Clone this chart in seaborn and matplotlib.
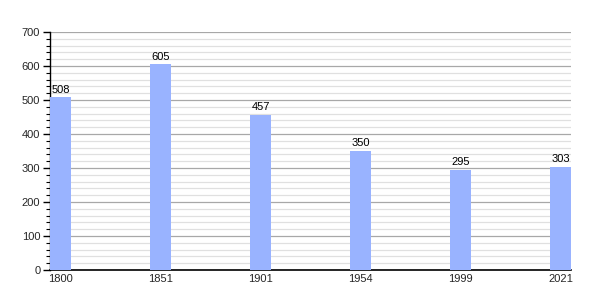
import matplotlib
matplotlib.use("Agg")
import matplotlib.pyplot as plt
import seaborn as sns
import pandas as pd
import numpy as np
from matplotlib.ticker import MultipleLocator

years = ["1800", "1851", "1901", "1954", "1999", "2021"]
population = [508, 605, 457, 350, 295, 303]

df = pd.DataFrame({"year": years, "pop": population})

sns.set_style("white")
plt.rcParams['font.family'] = ['Liberation Sans', 'DejaVu Sans']

fig = plt.figure(figsize=(6, 3), dpi=100)
ax = fig.add_axes([50/600, 30/300, 521/600, 238/300])

sns.barplot(data=df, x="year", y="pop", color="#99b3ff", saturation=1,
            width=0.21, ax=ax, zorder=3, edgecolor="none")

ax.set_xlim(-0.105, 5.105)
ax.set_ylim(0, 700)
ax.yaxis.set_major_locator(MultipleLocator(100))
ax.yaxis.set_minor_locator(MultipleLocator(20))
ax.grid(which="major", axis="y", color="#a8a8a8", linewidth=0.9, zorder=1)
ax.grid(which="minor", axis="y", color="#e0e0e0", linewidth=0.9, zorder=0)
ax.set_axisbelow(True)

for s in ["top", "right"]:
    ax.spines[s].set_visible(False)
ax.spines["left"].set_color("black")
ax.spines["bottom"].set_color("black")
ax.spines["left"].set_linewidth(1)
ax.spines["bottom"].set_linewidth(1.2)

ax.tick_params(axis="y", which="major", length=5, width=1, color="black",
               labelsize=8, left=True, pad=2)
ax.tick_params(axis="y", which="minor", length=3, width=0.8, color="black", left=True)
ax.tick_params(axis="x", length=0, labelsize=8, pad=3)

ax.set_xlabel("")
ax.set_ylabel("")

for i, v in enumerate(population):
    ax.text(i, v + 8, str(v), ha="center", va="bottom", fontsize=8, color="black")

fig.savefig("out.png", dpi=100)
